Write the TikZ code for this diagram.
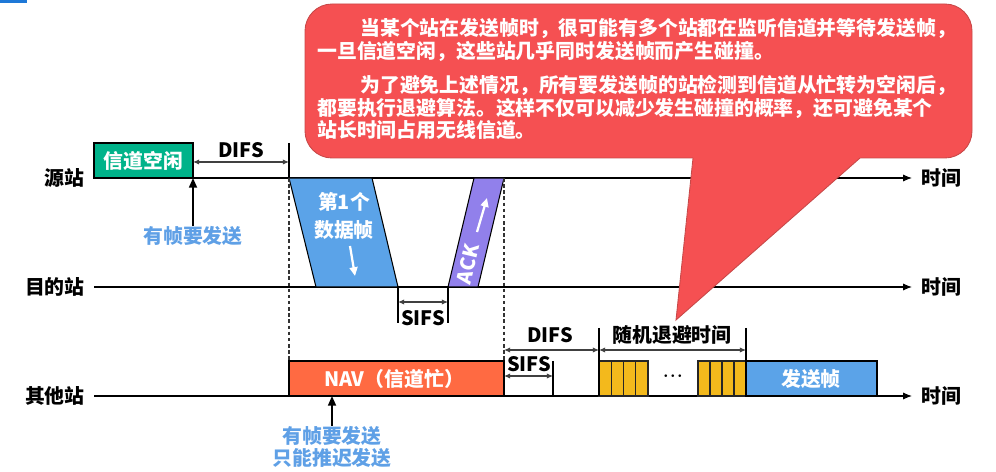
\documentclass[tikz,border=0pt]{standalone}
\usepackage{fontspec}
\setmainfont{Noto Sans CJK SC}
\usetikzlibrary{arrows.meta}

\definecolor{verde}{RGB}{0,179,138}
\definecolor{bludati}{RGB}{91,163,232}
\definecolor{viola}{RGB}{145,128,235}
\definecolor{arancio}{RGB}{255,106,66}
\definecolor{giallo}{RGB}{243,185,28}
\definecolor{rosso}{RGB}{245,80,82}
\definecolor{bordorosso}{RGB}{200,72,72}
\definecolor{testoblu}{RGB}{95,160,230}
\definecolor{bluangolo}{RGB}{30,120,215}

\begin{document}
\begin{tikzpicture}[x=0.02cm, y=-0.02cm,
		asse/.style={line width=0.6pt, black, -{Latex[length=5pt, width=4pt]}},
		tacca/.style={line width=1.2pt, black},
		quota/.style={line width=0.6pt, black!75,
			{Latex[length=3.5pt, width=3pt]}-{Latex[length=3.5pt, width=3pt]}},
		guida/.style={line width=0.6pt, black!80, dash pattern=on 2pt off 1.5pt},
		trama/.style={draw=black, line width=0.6pt},
		casella/.style={draw=black!85, line width=0.6pt, fill=giallo},
		etich/.style={font=\fontsize{11.3pt}{13pt}\selectfont\bfseries, inner sep=0pt},
		bianco/.style={etich, text=white},
		azzurro/.style={etich, text=testoblu, align=center},
		freccia/.style={line width=1.1pt, black, -{Triangle[length=5.5pt, width=4.5pt]}},
		fbianca/.style={line width=1.3pt, white, -{Triangle[length=5pt, width=4.5pt]}},
		fumetto/.style={fill=rosso, draw=bordorosso, line width=0.5pt, rounded corners=0.54cm},
		]
		\useasboundingbox (0,0) rectangle (996,472);
		
		%% angolo blu in alto a sinistra
		\fill[bluangolo] (0,0) rectangle (27,3);
		
		%% =========================================================
		%% assi temporali dei tre stazioni
		%% =========================================================
		\foreach \y/\n/\t in {178/sorg/源站, 287/dest/目的站, 396/altri/其他站}{
			\node[etich, anchor=east] (\n) at (85,\y) {\t};
			\coordinate (\n0) at (94,\y);
			\coordinate (\n1) at (912,\y);
			\node[etich, anchor=west] (t\n) at (921,\y) {时间};
			\draw[asse] (\n0) -- (\n1);}
		
		%% =========================================================
		%% stazione sorgente
		%% =========================================================
		\draw[trama, fill=verde] (94,143) rectangle (193,178);
		\node[bianco] (libero) at (143.5,160.5) {信道空闲};
		\coordinate (a1) at (193,162);
		\coordinate (a2) at (289,162);
		\draw[quota] (a1) -- (a2);
		\node[etich] (difsA) at (241,150) {DIFS};
		\draw[tacca] (289,143) -- (289,178);
		%% richiesta di invio
		\node[azzurro] (pronto1) at (193,236) {有帧要发送};
		\coordinate (p1) at (193,178);
		\draw[freccia] (pronto1) -- (p1);
		
		%% primo frame dati e ACK
		\draw[trama, fill=bludati] (289,178) -- (372,178) -- (398,287) -- (316,287) -- cycle;
		\node[bianco, align=center, font=\fontsize{11.3pt}{16pt}\selectfont\bfseries]
		(dati) at (344,216) {第1个\\数据帧};
		\coordinate (fd0) at (350,246);
		\coordinate (fd1) at (355,276);
		\draw[fbianca] (fd0) -- (fd1);
		\draw[trama, fill=viola] (474,178) -- (504,178) -- (478,287) -- (448,287) -- cycle;
		\node[bianco, rotate=76.6] (ack) at (468,264) {ACK};
		\coordinate (fa0) at (477,232);
		\coordinate (fa1) at (487,198);
		\draw[fbianca] (fa0) -- (fa1);
		
		%% linee guida tratteggiate
		\draw[guida] (289,178) -- (289,361);
		\draw[guida] (504,178) -- (504,361);
		
		%% SIFS alla destinazione
		\draw[tacca] (398,287) -- (398,323);
		\draw[tacca] (448,287) -- (448,323);
		\coordinate (b1) at (398,302);
		\coordinate (b2) at (448,302);
		\draw[quota] (b1) -- (b2);
		\node[etich] (sifsA) at (423,318) {SIFS};
		
		%% =========================================================
		%% altre stazioni
		%% =========================================================
		\draw[trama, fill=arancio] (289,361) rectangle (504,396);
		\node[bianco] (nav) at (394,379) {NAV（信道忙）};
		\node[azzurro] (pronto2) at (332,447) {有帧要发送\\只能推迟发送};
		\coordinate (p2) at (332,396);
		\draw[freccia] (pronto2) -- (p2);
		
		%% SIFS e DIFS dopo il NAV
		\coordinate (c1) at (504,376);
		\coordinate (c2) at (553,376);
		\draw[quota] (c1) -- (c2);
		\draw[tacca] (553,361) -- (553,396);
		\node[etich] (sifsB) at (529,364) {SIFS};
		\coordinate (e1) at (504,350);
		\coordinate (e2) at (599,350);
		\coordinate (e3) at (746,350);
		\draw[quota] (e1) -- (e2);
		\draw[quota] (e2) -- (e3);
		\node[etich] (difsB) at (550,335) {DIFS};
		\node[etich] (attesa) at (672,335) {随机退避时间};
		
		%% caselle di backoff
		\foreach \i in {0,...,3}{
			\draw[casella] ({599+12.25*\i},361) rectangle ++(12.25,35);
			\draw[casella] ({698+12*\i},361) rectangle ++(12,35);}
		\node[etich, font=\fontsize{15pt}{15pt}\selectfont] (punti) at (673,377)
		{$\mathord{\cdotp}\mathord{\cdotp}\mathord{\cdotp}$};
		\draw[tacca] (599,328) -- (599,396);
		\draw[tacca] (746,328) -- (746,396);
		\draw[trama, fill=bludati] (746,361) rectangle (877,396);
		\node[bianco] (invio) at (811,379) {发送帧};
		
		%% =========================================================
		%% fumetto con la spiegazione
		%% =========================================================
		\draw[fumetto] (305,4) rectangle (972,158);
		\fill[rosso] (694,150) -- (676,320) -- (869,150) -- cycle;
		\draw[bordorosso, line width=0.5pt] (693,158) -- (676,320) -- (860,158);
		\node[bianco, anchor=base west] (r1) at (360,36) {当某个站在发送帧时，很可能有多个站都在监听信道并等待发送帧，};
		\node[bianco, anchor=base west] (r2) at (317,59) {一旦信道空闲，这些站几乎同时发送帧而产生碰撞。};
		\node[bianco, anchor=base west] (r3) at (360,93) {为了避免上述情况，所有要发送帧的站检测到信道从忙转为空闲后，};
		\node[bianco, anchor=base west] (r4) at (317,116) {都要执行退避算法。这样不仅可以减少发生碰撞的概率，还可避免某个};
		\node[bianco, anchor=base west] (r5) at (317,138) {站长时间占用无线信道。};
		
\end{tikzpicture}
\end{document}
